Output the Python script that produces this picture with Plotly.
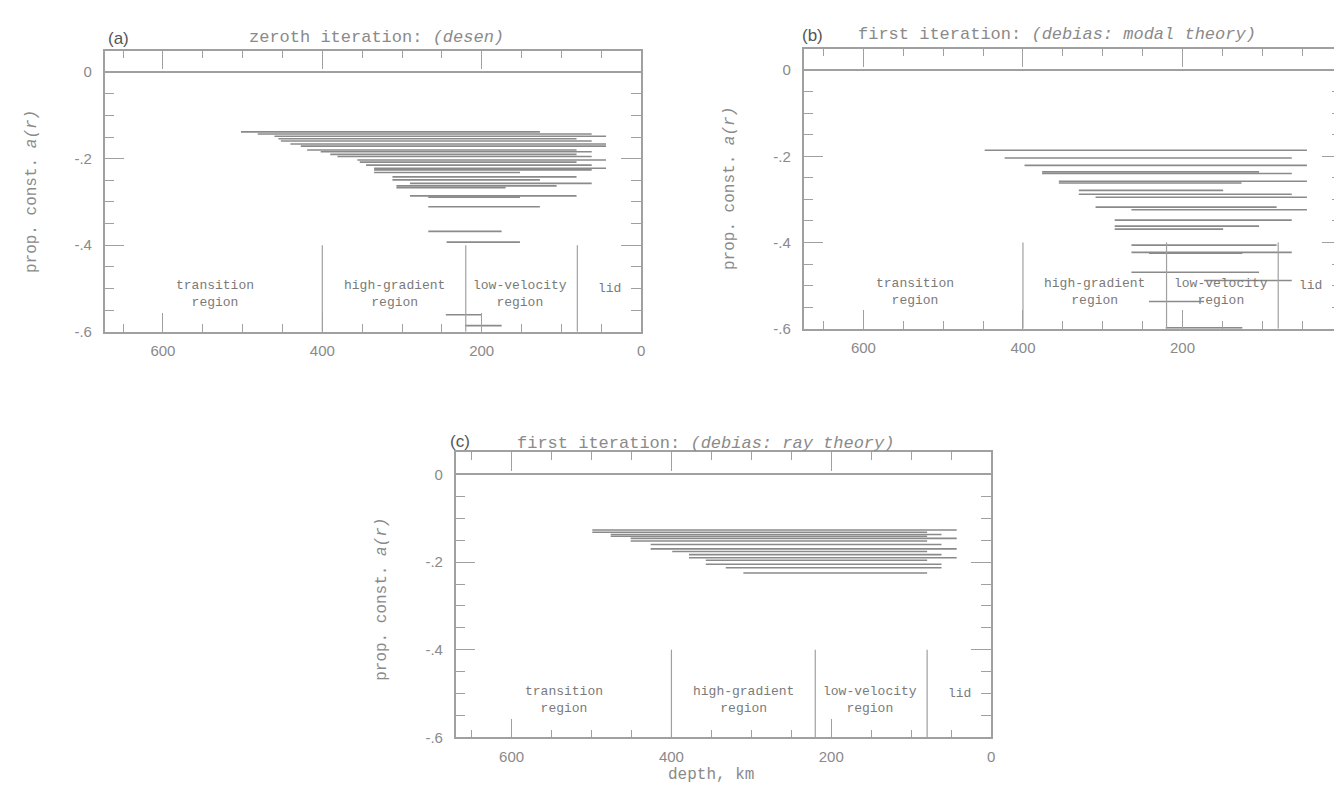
import plotly.graph_objects as go

W, H = 1342, 786

# ---------------- data (depth in km, proportionality constant a(r)) ----------------
# panel (a): zeroth iteration (desen)
a_y =       [-0.138, -0.143, -0.148, -0.154, -0.159, -0.166, -0.171, -0.180, -0.184, -0.190,
             -0.195, -0.203, -0.208, -0.215, -0.222, -0.226, -0.232, -0.242, -0.249, -0.257,
             -0.263, -0.267, -0.286, -0.289, -0.311, -0.368, -0.393, -0.561, -0.586]
a_deep =    [502, 481, 460, 455, 452, 440, 427, 419, 402, 390,
             381, 356, 353, 345, 335, 335, 335, 312, 312, 290,
             307, 307, 290, 267, 267, 267, 244, 245, 221]
a_shallow = [127, 62, 44, 81, 62, 44, 44, 81, 62, 81,
             62, 44, 81, 62, 44, 62, 152, 81, 127, 62,
             106, 170, 81, 152, 127, 175, 152, 200, 175]

# panel (b): first iteration (debias: modal theory)
b_y =       [-0.186, -0.204, -0.221, -0.236, -0.240, -0.258, -0.262, -0.279, -0.288, -0.295,
             -0.318, -0.324, -0.348, -0.362, -0.369, -0.406, -0.423, -0.425, -0.469, -0.488,
             -0.537, -0.598]
b_deep =    [448, 423, 398, 376, 376, 355, 355, 330, 330, 309,
             309, 264, 285, 285, 285, 264, 264, 242, 264, 173,
             242, 221]
b_shallow = [44, 63, 44, 104, 63, 44, 126, 149, 63, 44,
             82, 44, 63, 104, 149, 82, 63, 125, 104, 63,
             173, 125]

# panel (c): first iteration (debias: ray theory)
c_y =       [-0.127, -0.132, -0.137, -0.141, -0.146, -0.152, -0.160, -0.170, -0.176, -0.183,
             -0.190, -0.196, -0.205, -0.213, -0.225]
c_deep =    [499, 499, 476, 476, 451, 451, 426, 426, 399, 378,
             378, 357, 357, 332, 310]
c_shallow = [43, 80, 62, 80, 43, 80, 62, 43, 80, 62,
             43, 80, 62, 62, 80]

# region boundaries and labels
region_bounds = [400, 220, 80]
region_bound_top = -0.4
region_labels = ["transition<br>region", "high-gradient<br>region", "low-velocity<br>region", "lid"]
region_label_depth = [535, 310, 152, 40]
region_label_y = [-0.514, -0.514, -0.514, -0.500]

x_tickvals = [600, 400, 200, 0]
x_ticktext = ["600", "400", "200", "0"]
y_tickvals = [0, -0.2, -0.4, -0.6]
y_ticktext = ["0", "-.2", "-.4", "-.6"]

panel_letters = ["(a)", "(b)", "(c)"]
panel_titles = ["zeroth iteration: <i>(desen)</i>",
                "first iteration: <i>(debias: modal theory)</i>",
                "first iteration: <i>(debias: ray theory)</i>"]
y_title = "prop. const. <i>a(r)</i>"
x_title = "depth, km"

# ---------------- layout geometry (pixels) ----------------
frames = [  # left, right, top, bottom
    (97, 635, 43, 327),
    (798, 1338, 41, 324),
    (449, 986, 449, 737),
]
x_ranges = [[673, 0], [675, 0], [670, 0]]
y_range = [-0.6, 0.05]

letter_pos = [(111, 31), (807, 28), (453, 438)]
title_pos = [(370, 30), (1052, 27), (700, 440)]
ytitle_pos = [(24, 185), (724, 182), (375, 597)]
xtitle_pos = (705, 775)

GRAY = "#a0a0a0"
LINE = "#8a8a8a"
TXT = "#8a8a8a"

fig = go.Figure()

datasets = [(a_y, a_deep, a_shallow), (b_y, b_deep, b_shallow), (c_y, c_deep, c_shallow)]
for i, (ys, ds, ss) in enumerate(datasets):
    sx = "" if i == 0 else str(i + 1)
    xs, yy = [], []
    for y, d, s in zip(ys, ds, ss):
        xs += [d, s, None]
        yy += [y, y, None]
    fig.add_trace(go.Scatter(x=xs, y=yy, mode="lines", line=dict(color=LINE, width=1.6),
                             xaxis="x" + sx, yaxis="y" + sx, showlegend=False, hoverinfo="skip"))
    bx, by = [], []
    for b in region_bounds:
        bx += [b, b, None]
        by += [region_bound_top, y_range[0], None]
    fig.add_trace(go.Scatter(x=bx, y=by, mode="lines", line=dict(color=GRAY, width=1.2),
                             xaxis="x" + sx, yaxis="y" + sx, showlegend=False, hoverinfo="skip"))

layout = dict(width=W, height=H, margin=dict(l=0, r=0, t=0, b=0),
              paper_bgcolor="white", plot_bgcolor="white", showlegend=False)

annotations = []
for i, (l, r, t, b) in enumerate(frames):
    sx = "" if i == 0 else str(i + 1)
    xd = [l / W, r / W]
    yd = [1 - b / H, 1 - t / H]
    # panel (b) sits at the page edge: its "0" label is placed separately so it stays visible
    tv = x_tickvals if i != 1 else x_tickvals[:-1]
    tt = x_ticktext if i != 1 else x_ticktext[:-1]
    layout["xaxis" + sx] = dict(
        domain=xd, range=x_ranges[i], anchor="y" + sx,
        showline=True, linecolor=GRAY, linewidth=1.5, mirror="ticks",
        ticks="inside", ticklen=19, tickwidth=1.3, tickcolor=GRAY,
        tickvals=tv, ticktext=tt, ticklabelstandoff=5,
        tickfont=dict(family="Liberation Sans", size=15, color=TXT),
        minor=dict(dtick=50, tick0=0, ticks="inside", ticklen=8, tickcolor=GRAY, tickwidth=1.2),
        showgrid=False, zeroline=False, fixedrange=True,
    )
    layout["yaxis" + sx] = dict(
        domain=yd, range=y_range, anchor="x" + sx,
        showline=True, linecolor=GRAY, linewidth=1.5, mirror="ticks",
        ticks="inside", ticklen=20, tickwidth=1.3, tickcolor=GRAY,
        tickvals=y_tickvals, ticktext=y_ticktext, ticklabelstandoff=8,
        tickfont=dict(family="Liberation Sans", size=15, color=TXT),
        minor=dict(dtick=0.05, tick0=0, ticks="inside", ticklen=10, tickcolor=GRAY, tickwidth=1.2),
        showgrid=False, zeroline=True, zerolinecolor=GRAY, zerolinewidth=1.5, fixedrange=True,
    )
    lx, ly = letter_pos[i]
    annotations.append(dict(text=panel_letters[i], x=lx / W, y=1 - ly / H, xref="paper", yref="paper",
                            showarrow=False, xanchor="center", yanchor="middle",
                            font=dict(family="Liberation Sans", size=17, color="#555555")))
    tx, ty = title_pos[i]
    annotations.append(dict(text=panel_titles[i], x=tx / W, y=1 - ty / H, xref="paper", yref="paper",
                            showarrow=False, xanchor="center", yanchor="middle",
                            font=dict(family="Liberation Mono", size=17, color=TXT)))
    yx, yy_ = ytitle_pos[i]
    annotations.append(dict(text=y_title, x=yx / W, y=1 - yy_ / H, xref="paper", yref="paper",
                            showarrow=False, xanchor="center", yanchor="middle", textangle=-90,
                            font=dict(family="Liberation Mono", size=16, color=TXT)))
    for name, dep, ly_ in zip(region_labels, region_label_depth, region_label_y):
        annotations.append(dict(text=name, x=dep, y=ly_, xref="x" + sx, yref="y" + sx,
                                showarrow=False, xanchor="center", yanchor="middle",
                                font=dict(family="Liberation Mono", size=13, color="#7a7a7a")))

# "0" tick label of panel (b), kept inside the page
annotations.append(dict(text=x_ticktext[-1], x=1.0, y=1 - 348 / H, xref="paper", yref="paper",
                        showarrow=False, xanchor="right", yanchor="middle",
                        font=dict(family="Liberation Sans", size=15, color=TXT)))

annotations.append(dict(text=x_title, x=xtitle_pos[0] / W, y=1 - xtitle_pos[1] / H, xref="paper", yref="paper",
                        showarrow=False, xanchor="center", yanchor="middle",
                        font=dict(family="Liberation Mono", size=16, color=TXT)))

layout["annotations"] = annotations
fig.update_layout(**layout)
fig.write_html("out.html")
